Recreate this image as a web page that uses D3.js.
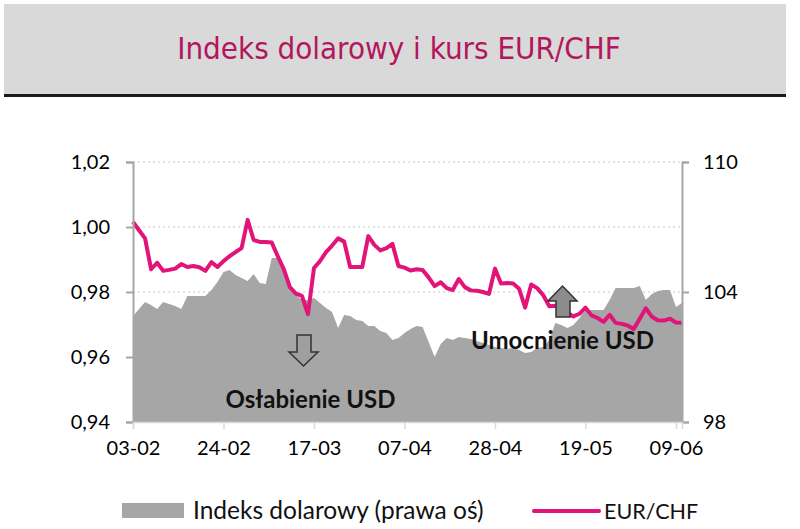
<!DOCTYPE html>
<html>
<head>
<meta charset="utf-8">
<script src="https://cdn.jsdelivr.net/npm/d3@7"></script>
<style>
  body { margin: 0; background: #fff; }
  svg { display: block; }
</style>
</head>
<body>
<svg id="chart" width="800" height="529"></svg>
<script>
  // business days, DD-MM
  const dates = [
    "03-02","04-02","05-02","06-02","07-02","10-02","11-02","12-02","13-02","14-02",
    "17-02","18-02","19-02","20-02","21-02","24-02","25-02","26-02","27-02","28-02",
    "03-03","04-03","05-03","06-03","07-03","10-03","11-03","12-03","13-03","14-03",
    "17-03","18-03","19-03","20-03","21-03","24-03","25-03","26-03","27-03","28-03","31-03",
    "01-04","02-04","03-04","04-04","07-04","08-04","09-04","10-04","11-04",
    "14-04","15-04","16-04","17-04","18-04","21-04","22-04","23-04","24-04","25-04",
    "28-04","29-04","30-04","01-05","02-05","05-05","06-05","07-05","08-05","09-05",
    "12-05","13-05","14-05","15-05","16-05","19-05","20-05","21-05","22-05","23-05",
    "26-05","27-05","28-05","29-05","30-05","02-06","03-06","04-06","05-06","06-06",
    "09-06","10-06"
  ];

  const eurChf = [
    1.0016, 0.9990, 0.9965, 0.9870, 0.9890, 0.9865, 0.9868, 0.9872, 0.9886, 0.9877,
    0.9880, 0.9876, 0.9865, 0.9892, 0.9877, 0.9895, 0.9910, 0.9923, 0.9935, 1.0022,
    0.9960, 0.9954, 0.9954, 0.9952, 0.9910, 0.9870, 0.9815, 0.9795, 0.9788, 0.9732,
    0.9874, 0.9895, 0.9923, 0.9943, 0.9965, 0.9955, 0.9877, 0.9877, 0.9877, 0.9972,
    0.9945, 0.9928, 0.9935, 0.9948, 0.9880, 0.9875, 0.9866, 0.9870, 0.9868, 0.9845,
    0.9818, 0.9830, 0.9812, 0.9806, 0.9840, 0.9815, 0.9805, 0.9804, 0.9800, 0.9794,
    0.9872, 0.9826, 0.9828, 0.9826, 0.9810, 0.9752, 0.9823, 0.9812, 0.9790, 0.9756,
    0.9758, 0.9745, 0.9735, 0.9725, 0.9733, 0.9752, 0.9728, 0.9720, 0.9708, 0.9730,
    0.9705, 0.9702, 0.9697, 0.9686, 0.9718, 0.9750, 0.9724, 0.9713, 0.9712, 0.9718,
    0.9706, 0.9705
  ];

  const dxy = [
    102.89, 103.22, 103.54, 103.40, 103.22, 103.54, 103.45, 103.35, 103.22, 103.82,
    103.82, 103.82, 103.82, 104.09, 104.46, 104.92, 105.02, 104.78, 104.65, 104.51,
    104.83, 104.42, 104.37, 105.57, 105.57, 105.02, 104.32, 103.86, 103.63, 103.63,
    103.72, 103.49, 103.26, 103.08, 102.34, 102.94, 102.89, 102.71, 102.66, 102.43,
    102.43, 102.20, 102.11, 101.78, 101.88, 102.11, 102.29, 102.43, 102.38, 101.69,
    101.00, 101.60, 101.88, 101.78, 101.92, 101.88, 101.83, 101.74, 101.65, 101.55,
    101.46, 101.42, 101.37, 101.42, 101.32, 101.18, 101.23, 101.42, 101.46, 101.78,
    102.57, 102.48, 102.34, 102.48, 102.80, 103.17, 103.17, 103.17, 103.17, 103.63,
    104.18, 104.18, 104.18, 104.18, 104.28, 103.63, 103.91, 104.05, 104.09, 104.09,
    103.31, 103.49
  ];

  const xTicks = ["03-02", "24-02", "17-03", "07-04", "28-04", "19-05", "09-06"];
  const leftTicks = [0.94, 0.96, 0.98, 1.00, 1.02];
  const rightTicks = [98, 104, 110];

  const title = "Indeks dolarowy i kurs EUR/CHF";
  const legendArea = "Indeks dolarowy (prawa oś)";
  const legendLine = "EUR/CHF";

  const pink = "#e2147a",
    areaGrey = "#a6a6a6",
    axisGrey = "#a6a6a6",
    font = "Lato, 'Open Sans', sans-serif";

  let svg = d3.select('#chart'),
    plotLeft = 133,
    plotRight = 682,
    plotTop = 162,
    plotBottom = 422;

  /*
   * title banner
   */
  svg.append('rect')
    .attr('x', 4).attr('y', 4)
    .attr('width', 782).attr('height', 91)
    .attr('fill', '#d9d9d9');
  svg.append('rect')
    .attr('x', 4).attr('y', 94)
    .attr('width', 782).attr('height', 3)
    .attr('fill', '#1a1a1a');
  svg.append('text')
    .attr('x', 399).attr('y', 59)
    .attr('text-anchor', 'middle')
    .attr('font-family', "'DejaVu Sans Condensed', 'DejaVu Sans', sans-serif")
    .attr('font-stretch', 'condensed')
    .attr('font-size', 31)
    .attr('fill', '#b3165c')
    .text(title);

  /*
   * scales
   */
  let x = d3.scalePoint().domain(dates).range([plotLeft, plotRight]);
  let yL = d3.scaleLinear().domain([0.94, 1.02]).range([plotBottom, plotTop]);
  let yR = d3.scaleLinear().domain([98, 110]).range([plotBottom, plotTop]);

  // dotted grid
  svg.append('g')
    .selectAll('line')
    .data(leftTicks.slice(1))
    .enter()
    .append('line')
    .attr('x1', plotLeft).attr('x2', plotRight)
    .attr('y1', d => yL(d)).attr('y2', d => yL(d))
    .attr('stroke', '#c8c8c8')
    .attr('stroke-width', 1.2)
    .attr('stroke-dasharray', '2,3');

  // dollar index area
  let area = d3.area()
    .x((d, i) => x(dates[i]))
    .y0(plotBottom)
    .y1(d => yR(d));
  svg.append('path')
    .datum(dxy)
    .attr('d', area)
    .attr('fill', areaGrey);

  // EUR/CHF line
  let line = d3.line()
    .x((d, i) => x(dates[i]))
    .y(d => yL(d));
  svg.append('path')
    .datum(eurChf)
    .attr('d', line)
    .attr('fill', 'none')
    .attr('stroke', pink)
    .attr('stroke-width', 4)
    .attr('stroke-linejoin', 'round');

  /*
   * axes
   */
  let fmtComma = d => d.toFixed(2).replace('.', ',');

  let gL = svg.append('g')
    .attr('transform', 'translate(' + plotLeft + ',0)')
    .call(d3.axisLeft(yL).tickValues(leftTicks).tickFormat(fmtComma).tickSize(7).tickPadding(16));
  let gR = svg.append('g')
    .attr('transform', 'translate(' + plotRight + ',0)')
    .call(d3.axisRight(yR).tickValues(rightTicks).tickSize(7).tickPadding(14));
  let gB = svg.append('g')
    .attr('transform', 'translate(0,' + plotBottom + ')')
    .call(d3.axisBottom(x).tickValues(xTicks).tickSize(7).tickPadding(12));

  [gL, gR].forEach(g => {
    g.select('.domain').attr('stroke', axisGrey).attr('stroke-width', 2);
    g.selectAll('.tick line').attr('stroke', axisGrey).attr('stroke-width', 2);
  });
  gB.select('.domain').attr('stroke', '#d9d9d9').attr('stroke-width', 1.5);
  gB.selectAll('.tick line').attr('stroke', '#d9d9d9').attr('stroke-width', 1.5);

  svg.selectAll('.tick text')
    .attr('font-family', font)
    .attr('font-size', 20)
    .attr('fill', '#000');

  /*
   * annotations
   */
  let arrowDown = d3.path();
  arrowDown.moveTo(297, 335); arrowDown.lineTo(311, 335); arrowDown.lineTo(311, 352);
  arrowDown.lineTo(318, 352); arrowDown.lineTo(303.5, 366); arrowDown.lineTo(289, 352);
  arrowDown.lineTo(297, 352); arrowDown.closePath();
  svg.append('path')
    .attr('d', arrowDown.toString())
    .attr('fill', '#9f9f9f')
    .attr('stroke', '#333')
    .attr('stroke-width', 1.5)
    .attr('stroke-linejoin', 'miter');

  let arrowUp = d3.path();
  arrowUp.moveTo(556, 317); arrowUp.lineTo(570, 317); arrowUp.lineTo(570, 301);
  arrowUp.lineTo(577, 301); arrowUp.lineTo(562.5, 286); arrowUp.lineTo(548, 301);
  arrowUp.lineTo(556, 301); arrowUp.closePath();
  svg.append('path')
    .attr('d', arrowUp.toString())
    .attr('fill', '#8c8c8c')
    .attr('stroke', '#333')
    .attr('stroke-width', 1.5);

  svg.append('text')
    .attr('x', 310.5).attr('y', 408)
    .attr('text-anchor', 'middle')
    .attr('font-family', font)
    .attr('font-weight', 'bold')
    .attr('font-size', 24)
    .attr('fill', '#111')
    .text('Osłabienie USD');

  svg.append('text')
    .attr('x', 562.5).attr('y', 349)
    .attr('text-anchor', 'middle')
    .attr('font-family', font)
    .attr('font-weight', 'bold')
    .attr('font-size', 24)
    .attr('fill', '#111')
    .text('Umocnienie USD');

  /*
   * legend
   */
  svg.append('rect')
    .attr('x', 122).attr('y', 503)
    .attr('width', 62).attr('height', 15)
    .attr('fill', areaGrey);
  svg.append('text')
    .attr('x', 193).attr('y', 519)
    .attr('font-family', font)
    .attr('font-size', 24.5)
    .attr('fill', '#111')
    .text(legendArea);
  svg.append('line')
    .attr('x1', 534).attr('x2', 599)
    .attr('y1', 511).attr('y2', 511)
    .attr('stroke', pink)
    .attr('stroke-width', 4)
    .attr('stroke-linecap', 'round');
  svg.append('text')
    .attr('x', 604).attr('y', 519)
    .attr('font-family', font)
    .attr('font-size', 21.5)
    .attr('fill', '#111')
    .text(legendLine);
</script>
</body>
</html>
